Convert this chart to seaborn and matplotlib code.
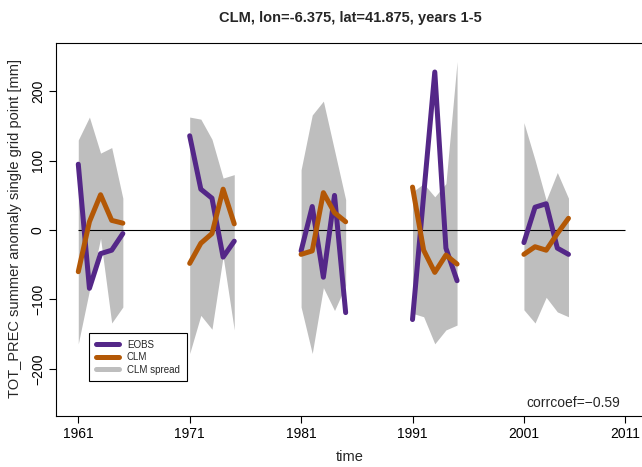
import numpy as np
import pandas as pd
import matplotlib
matplotlib.use("Agg")
import matplotlib.pyplot as plt
import seaborn as sns
from matplotlib.lines import Line2D

# ---- data ----
block_starts = [1961, 1971, 1981, 1991, 2001]
years = [1961, 1962, 1963, 1964, 1965,
         1971, 1972, 1973, 1974, 1975,
         1981, 1982, 1983, 1984, 1985,
         1991, 1992, 1993, 1994, 1995,
         2001, 2002, 2003, 2004, 2005]
eobs = [95, -84, -34, -29, -5,
        136, 59, 46, -39, -16,
        -30, 34, -68, 50, -119,
        -129, 50, 228, -26, -73,
        -18, 33, 38, -26, -35]
clm = [-60, 12, 51, 14, 10,
       -48, -19, -5, 59, 9,
       -35, -30, 54, 25, 12,
       62, -29, -61, -36, -49,
       -35, -24, -29, -5, 17]
spread_hi = [130, 163, 111, 119, 46,
             163, 160, 131, 75, 80,
             87, 166, 186, 115, 44,
             55, 67, 48, 67, 243,
             155, 101, 43, 83, 46]
spread_lo = [-164, -87, -12, -134, -111,
             -178, -123, -143, -38, -144,
             -111, -178, -83, -116, -80,
             -120, -125, -164, -144, -137,
             -115, -134, -97, -118, -125]
tick_labels = ["1961", "1971", "1981", "1991", "2001", "2011"]
tick_pos = [1961, 1971, 1981, 1991, 2001, 2010.05]
ytick_vals = [-200, -100, 0, 100, 200]
title = "CLM, lon=-6.375, lat=41.875, years 1-5"
corr_text = "corrcoef=\u22120.59"

purple = "#542788"
orange = "#B35806"
grey = "#BEBEBE"

block = [y - (y - 1961) % 10 for y in years]
df = pd.DataFrame({"year": years, "block": block, "EOBS": eobs, "CLM": clm,
                   "lo": spread_lo, "hi": spread_hi})

sns.set_theme(style="white")
plt.rcParams["font.family"] = ["Liberation Sans", "DejaVu Sans"]

W, H = 642, 467
fig = plt.figure(figsize=(W / 100, H / 100), dpi=100)
left, right, top, bottom = 56, 657.6, 43.3, 415.7
ax = fig.add_axes([left / W, 1 - bottom / H, (right - left) / W, (bottom - top) / H])

for b in block_starts:
    sub = df[df.block == b]
    ax.fill_between(sub.year, sub.lo, sub.hi, color=grey, lw=0, zorder=1)

ax.hlines(0, 1961, 2010.05, color="black", lw=0.8, zorder=2)

sns.lineplot(data=df, x="year", y="EOBS", units="block", estimator=None,
             color=purple, lw=3.6, ax=ax, zorder=3, solid_capstyle="round")
sns.lineplot(data=df, x="year", y="CLM", units="block", estimator=None,
             color=orange, lw=3.6, ax=ax, zorder=4, solid_capstyle="round")

ax.set_xlim(1959.0, 2013.0)
ax.set_ylim(-267.7, 269.4)
ax.set_xticks(tick_pos)
ax.set_xticklabels(tick_labels)
ax.set_yticks(ytick_vals)
ax.set_yticklabels([str(v).replace("-", "\u2212") for v in ytick_vals], rotation=90, va="center")
ax.set_xlabel("")
ax.set_ylabel("")
ax.tick_params(axis="both", direction="out", length=5, width=0.8, colors="black",
               labelsize=10, bottom=True, left=True, pad=3)
for s in ax.spines.values():
    s.set_color("black")
    s.set_linewidth(0.8)

fig.text(350 / W, 1 - 18 / H, title, ha="center", va="center", fontsize=10.5, fontweight="bold")
fig.text(350 / W, 1 - 457 / H, "time", ha="center", va="center", fontsize=10.5)
fig.text(15 / W, 1 - 229 / H, "TOT_PREC summer anomaly single grid point [mm]",
         ha="center", va="center", rotation=90, fontsize=10.5)
fig.text(620 / W, 1 - 403 / H, corr_text, ha="right", va="center", fontsize=10)

handles = [Line2D([], [], color=purple, lw=3.6),
           Line2D([], [], color=orange, lw=3.6),
           Line2D([], [], color=grey, lw=3.6)]
leg = ax.legend(handles, ["EOBS", "CLM", "CLM spread"], loc="upper left",
                bbox_to_anchor=(89 / W, 1 - 333 / H), bbox_transform=fig.transFigure,
                fontsize=7, frameon=True, fancybox=False, framealpha=1,
                edgecolor="black", handlelength=2.4, borderpad=0.7,
                labelspacing=0.25, handletextpad=0.8, borderaxespad=0)
leg.get_frame().set_linewidth(0.8)

fig.savefig("out.png", dpi=100)
